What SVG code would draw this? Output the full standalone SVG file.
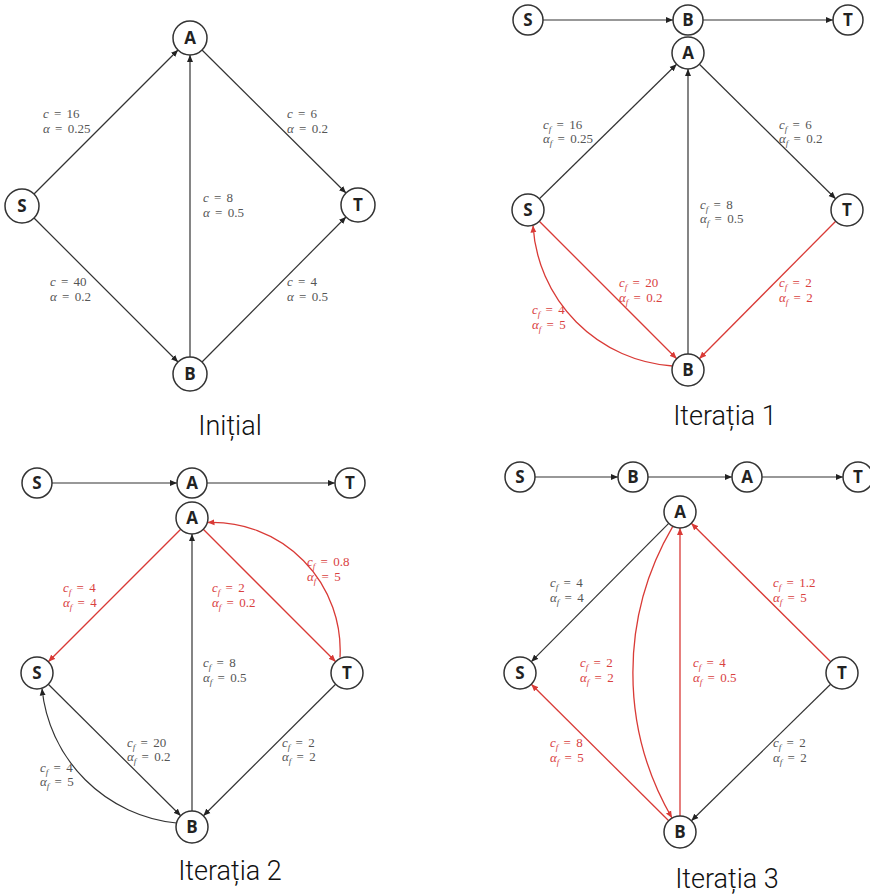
<svg xmlns="http://www.w3.org/2000/svg" width="870" height="895" viewBox="0 0 870 895">
<style>
.nd{fill:#fff;stroke:#333;stroke-width:1.5}
.nt{font-family:"Open Sans","DejaVu Sans",sans-serif;font-weight:bold;font-size:17px;fill:#222;text-anchor:middle}
.e{fill:none;stroke:#333;stroke-width:1.2;marker-end:url(#ak)}
.r{fill:none;stroke:#d93a36;stroke-width:1.3;marker-end:url(#ar)}
.lb{font-family:"Liberation Serif","DejaVu Serif",serif;font-size:13px;fill:#555;word-spacing:2px}
.lr{font-family:"Liberation Serif","DejaVu Serif",serif;font-size:13px;fill:#d9413f;word-spacing:2px}
.i{font-style:italic}
.s{font-style:italic;font-size:9px}
.ti{font-family:Roboto,"Open Sans",sans-serif;font-weight:300;font-size:27px;fill:#111;text-anchor:middle}
</style>
<defs>
<marker id="ak" markerUnits="userSpaceOnUse" markerWidth="8" markerHeight="7" refX="7" refY="3.5" orient="auto"><path d="M0,0.5 L7,3.5 L0,6.5 Z" fill="#222"/></marker>
<marker id="ar" markerUnits="userSpaceOnUse" markerWidth="8" markerHeight="7" refX="7" refY="3.5" orient="auto"><path d="M0,0.5 L7,3.5 L0,6.5 Z" fill="#d93a36"/></marker>
</defs>
<rect width="870" height="895" fill="#fff"/>

<g id="connectors">
<g id="p1-edges">
<line class="e" x1="34" y1="194" x2="178" y2="50"/>
<line class="e" x1="202" y1="50" x2="346" y2="193"/>
<line class="e" x1="34" y1="218" x2="178" y2="362"/>
<line class="e" x1="202" y1="362" x2="346" y2="217"/>
<line class="e" x1="190" y1="357" x2="190" y2="55"/>
</g>
<g id="p2-edges">
<line class="e" x1="543" y1="20" x2="673" y2="20"/>
<line class="e" x1="703" y1="20" x2="833" y2="20"/>
<line class="e" x1="539.4" y1="198.8" x2="676.6" y2="64.2"/>
<line class="e" x1="699.4" y1="64.2" x2="835.6" y2="198.8"/>
<line class="e" x1="688" y1="354" x2="688" y2="69"/>
<line class="r" x1="539.3" y1="221.3" x2="676.7" y2="358.7"/>
<line class="r" x1="835.7" y1="221.3" x2="699.3" y2="358.7"/>
<path class="r" d="M672.5,366 A150,150 0 0 1 533,225.5"/>
</g>
<g id="p3-edges">
<line class="e" x1="52" y1="483" x2="177" y2="483"/>
<line class="e" x1="207" y1="483" x2="335" y2="483"/>
<line class="r" x1="180.7" y1="529.3" x2="48.3" y2="661.7"/>
<line class="r" x1="203.3" y1="529.3" x2="335.7" y2="661.7"/>
<path class="r" d="M340,657.5 A128,128 0 0 0 207.5,522.5"/>
<line class="e" x1="192" y1="811" x2="192" y2="534"/>
<line class="e" x1="48.3" y1="684.3" x2="180.7" y2="815.7"/>
<line class="e" x1="335.6" y1="684.3" x2="203.4" y2="815.7"/>
<path class="e" d="M176.5,823 A150,150 0 0 1 42,688.5"/>
</g>
<g id="p4-edges">
<line class="e" x1="535" y1="477" x2="618" y2="477"/>
<line class="e" x1="648" y1="477" x2="732" y2="477"/>
<line class="e" x1="762" y1="477" x2="843" y2="477"/>
<line class="e" x1="668.7" y1="523.3" x2="531.3" y2="661.7"/>
<line class="r" x1="830.7" y1="661.7" x2="691.3" y2="523.3"/>
<line class="r" x1="680" y1="816" x2="680" y2="528"/>
<path class="r" d="M672.8,526.3 A289,289 0 0 0 672,818"/>
<line class="r" x1="668.7" y1="820.7" x2="531.3" y2="684.3"/>
<line class="e" x1="830.6" y1="684.2" x2="691.4" y2="820.8"/>
</g>
</g>

<g id="p1-A"><circle class="nd" cx="190" cy="38" r="17"/><text class="nt" x="190" y="44">A</text></g>
<g id="p1-S"><circle class="nd" cx="22" cy="206" r="17"/><text class="nt" x="22" y="212">S</text></g>
<g id="p1-T"><circle class="nd" cx="358" cy="205" r="17"/><text class="nt" x="358" y="211">T</text></g>
<g id="p1-B"><circle class="nd" cx="190" cy="374" r="17"/><text class="nt" x="190" y="380">B</text></g>
<g id="p1-labels">
<text class="lb" x="43" y="118"><tspan class="i">c</tspan> = 16</text>
<text class="lb" x="43" y="133"><tspan class="i">α</tspan> = 0.25</text>
<text class="lb" x="287" y="118"><tspan class="i">c</tspan> = 6</text>
<text class="lb" x="287" y="133"><tspan class="i">α</tspan> = 0.2</text>
<text class="lb" x="203" y="202"><tspan class="i">c</tspan> = 8</text>
<text class="lb" x="203" y="217"><tspan class="i">α</tspan> = 0.5</text>
<text class="lb" x="50" y="286"><tspan class="i">c</tspan> = 40</text>
<text class="lb" x="50" y="301"><tspan class="i">α</tspan> = 0.2</text>
<text class="lb" x="287" y="286"><tspan class="i">c</tspan> = 4</text>
<text class="lb" x="287" y="301"><tspan class="i">α</tspan> = 0.5</text>
</g>
<text class="ti" x="230" y="435">Inițial</text>

<g id="p2-path-S"><circle class="nd" cx="528" cy="20" r="15"/><text class="nt" x="528" y="26">S</text></g>
<g id="p2-path-B"><circle class="nd" cx="688" cy="20" r="15"/><text class="nt" x="688" y="26">B</text></g>
<g id="p2-path-T"><circle class="nd" cx="848" cy="20" r="15"/><text class="nt" x="848" y="26">T</text></g>
<g id="p2-A"><circle class="nd" cx="688" cy="53" r="16"/><text class="nt" x="688" y="59">A</text></g>
<g id="p2-S"><circle class="nd" cx="528" cy="210" r="16"/><text class="nt" x="528" y="216">S</text></g>
<g id="p2-T"><circle class="nd" cx="847" cy="210" r="16"/><text class="nt" x="847" y="216">T</text></g>
<g id="p2-B"><circle class="nd" cx="688" cy="370" r="16"/><text class="nt" x="688" y="376">B</text></g>
<g id="p2-labels">
<text class="lb" x="543" y="129"><tspan class="i">c</tspan><tspan class="s" dy="3">f</tspan><tspan dy="-3"> = 16</tspan></text>
<text class="lb" x="543" y="143"><tspan class="i">α</tspan><tspan class="s" dy="3">f</tspan><tspan dy="-3"> = 0.25</tspan></text>
<text class="lb" x="779" y="129"><tspan class="i">c</tspan><tspan class="s" dy="3">f</tspan><tspan dy="-3"> = 6</tspan></text>
<text class="lb" x="779" y="143"><tspan class="i">α</tspan><tspan class="s" dy="3">f</tspan><tspan dy="-3"> = 0.2</tspan></text>
<text class="lb" x="700" y="209"><tspan class="i">c</tspan><tspan class="s" dy="3">f</tspan><tspan dy="-3"> = 8</tspan></text>
<text class="lb" x="700" y="223"><tspan class="i">α</tspan><tspan class="s" dy="3">f</tspan><tspan dy="-3"> = 0.5</tspan></text>
<text class="lr" x="619" y="287"><tspan class="i">c</tspan><tspan class="s" dy="3">f</tspan><tspan dy="-3"> = 20</tspan></text>
<text class="lr" x="619" y="302"><tspan class="i">α</tspan><tspan class="s" dy="3">f</tspan><tspan dy="-3"> = 0.2</tspan></text>
<text class="lr" x="532" y="314"><tspan class="i">c</tspan><tspan class="s" dy="3">f</tspan><tspan dy="-3"> = 4</tspan></text>
<text class="lr" x="532" y="329"><tspan class="i">α</tspan><tspan class="s" dy="3">f</tspan><tspan dy="-3"> = 5</tspan></text>
<text class="lr" x="779" y="287"><tspan class="i">c</tspan><tspan class="s" dy="3">f</tspan><tspan dy="-3"> = 2</tspan></text>
<text class="lr" x="779" y="302"><tspan class="i">α</tspan><tspan class="s" dy="3">f</tspan><tspan dy="-3"> = 2</tspan></text>
</g>
<text class="ti" x="725" y="425">Iterația 1</text>

<g id="p3-path-S"><circle class="nd" cx="37" cy="483" r="15"/><text class="nt" x="37" y="489">S</text></g>
<g id="p3-path-A"><circle class="nd" cx="192" cy="483" r="15"/><text class="nt" x="192" y="489">A</text></g>
<g id="p3-path-T"><circle class="nd" cx="350" cy="483" r="15"/><text class="nt" x="350" y="489">T</text></g>
<g id="p3-A"><circle class="nd" cx="192" cy="518" r="16"/><text class="nt" x="192" y="524">A</text></g>
<g id="p3-S"><circle class="nd" cx="37" cy="673" r="16"/><text class="nt" x="37" y="679">S</text></g>
<g id="p3-T"><circle class="nd" cx="347" cy="673" r="16"/><text class="nt" x="347" y="679">T</text></g>
<g id="p3-B"><circle class="nd" cx="192" cy="827" r="16"/><text class="nt" x="192" y="833">B</text></g>
<g id="p3-labels">
<text class="lr" x="63" y="592"><tspan class="i">c</tspan><tspan class="s" dy="3">f</tspan><tspan dy="-3"> = 4</tspan></text>
<text class="lr" x="63" y="607"><tspan class="i">α</tspan><tspan class="s" dy="3">f</tspan><tspan dy="-3"> = 4</tspan></text>
<text class="lr" x="212" y="592"><tspan class="i">c</tspan><tspan class="s" dy="3">f</tspan><tspan dy="-3"> = 2</tspan></text>
<text class="lr" x="212" y="607"><tspan class="i">α</tspan><tspan class="s" dy="3">f</tspan><tspan dy="-3"> = 0.2</tspan></text>
<text class="lr" x="307" y="566"><tspan class="i">c</tspan><tspan class="s" dy="3">f</tspan><tspan dy="-3"> = 0.8</tspan></text>
<text class="lr" x="307" y="581"><tspan class="i">α</tspan><tspan class="s" dy="3">f</tspan><tspan dy="-3"> = 5</tspan></text>
<text class="lb" x="203" y="667"><tspan class="i">c</tspan><tspan class="s" dy="3">f</tspan><tspan dy="-3"> = 8</tspan></text>
<text class="lb" x="203" y="682"><tspan class="i">α</tspan><tspan class="s" dy="3">f</tspan><tspan dy="-3"> = 0.5</tspan></text>
<text class="lb" x="127" y="747"><tspan class="i">c</tspan><tspan class="s" dy="3">f</tspan><tspan dy="-3"> = 20</tspan></text>
<text class="lb" x="127" y="761"><tspan class="i">α</tspan><tspan class="s" dy="3">f</tspan><tspan dy="-3"> = 0.2</tspan></text>
<text class="lb" x="40" y="772"><tspan class="i">c</tspan><tspan class="s" dy="3">f</tspan><tspan dy="-3"> = 4</tspan></text>
<text class="lb" x="40" y="786"><tspan class="i">α</tspan><tspan class="s" dy="3">f</tspan><tspan dy="-3"> = 5</tspan></text>
<text class="lb" x="282" y="747"><tspan class="i">c</tspan><tspan class="s" dy="3">f</tspan><tspan dy="-3"> = 2</tspan></text>
<text class="lb" x="282" y="761"><tspan class="i">α</tspan><tspan class="s" dy="3">f</tspan><tspan dy="-3"> = 2</tspan></text>
</g>
<text class="ti" x="230" y="880">Iterația 2</text>

<g id="p4-path-S"><circle class="nd" cx="520" cy="477" r="15"/><text class="nt" x="520" y="483">S</text></g>
<g id="p4-path-B"><circle class="nd" cx="633" cy="477" r="15"/><text class="nt" x="633" y="483">B</text></g>
<g id="p4-path-A"><circle class="nd" cx="747" cy="477" r="15"/><text class="nt" x="747" y="483">A</text></g>
<g id="p4-path-T"><circle class="nd" cx="858" cy="477" r="15"/><text class="nt" x="858" y="483">T</text></g>
<g id="p4-A"><circle class="nd" cx="680" cy="512" r="16"/><text class="nt" x="680" y="518">A</text></g>
<g id="p4-S"><circle class="nd" cx="520" cy="673" r="16"/><text class="nt" x="520" y="679">S</text></g>
<g id="p4-T"><circle class="nd" cx="842" cy="673" r="16"/><text class="nt" x="842" y="679">T</text></g>
<g id="p4-B"><circle class="nd" cx="680" cy="832" r="16"/><text class="nt" x="680" y="838">B</text></g>
<g id="p4-labels">
<text class="lb" x="550" y="587"><tspan class="i">c</tspan><tspan class="s" dy="3">f</tspan><tspan dy="-3"> = 4</tspan></text>
<text class="lb" x="550" y="602"><tspan class="i">α</tspan><tspan class="s" dy="3">f</tspan><tspan dy="-3"> = 4</tspan></text>
<text class="lr" x="773" y="587"><tspan class="i">c</tspan><tspan class="s" dy="3">f</tspan><tspan dy="-3"> = 1.2</tspan></text>
<text class="lr" x="773" y="602"><tspan class="i">α</tspan><tspan class="s" dy="3">f</tspan><tspan dy="-3"> = 5</tspan></text>
<text class="lr" x="580" y="667"><tspan class="i">c</tspan><tspan class="s" dy="3">f</tspan><tspan dy="-3"> = 2</tspan></text>
<text class="lr" x="580" y="682"><tspan class="i">α</tspan><tspan class="s" dy="3">f</tspan><tspan dy="-3"> = 2</tspan></text>
<text class="lr" x="693" y="667"><tspan class="i">c</tspan><tspan class="s" dy="3">f</tspan><tspan dy="-3"> = 4</tspan></text>
<text class="lr" x="693" y="682"><tspan class="i">α</tspan><tspan class="s" dy="3">f</tspan><tspan dy="-3"> = 0.5</tspan></text>
<text class="lr" x="550" y="747"><tspan class="i">c</tspan><tspan class="s" dy="3">f</tspan><tspan dy="-3"> = 8</tspan></text>
<text class="lr" x="550" y="762"><tspan class="i">α</tspan><tspan class="s" dy="3">f</tspan><tspan dy="-3"> = 5</tspan></text>
<text class="lb" x="773" y="747"><tspan class="i">c</tspan><tspan class="s" dy="3">f</tspan><tspan dy="-3"> = 2</tspan></text>
<text class="lb" x="773" y="762"><tspan class="i">α</tspan><tspan class="s" dy="3">f</tspan><tspan dy="-3"> = 2</tspan></text>
</g>
<text class="ti" x="727" y="888">Iterația 3</text>
</svg>
